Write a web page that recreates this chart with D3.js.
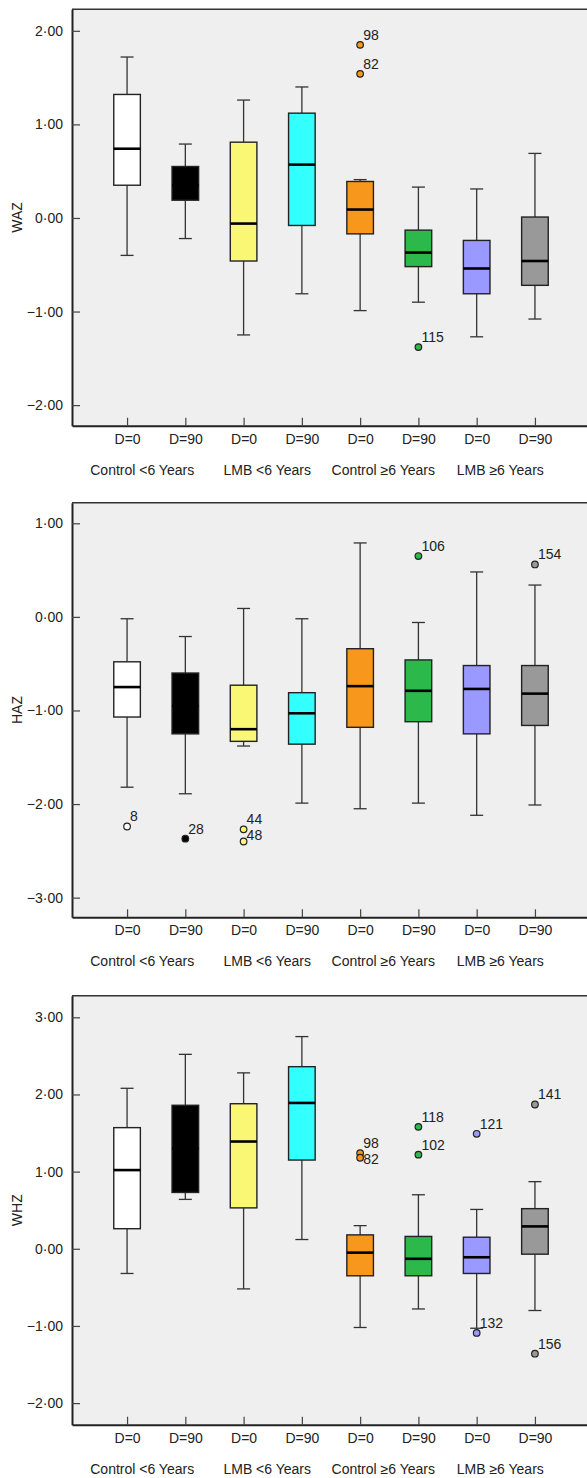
<!DOCTYPE html>
<html>
<head>
<meta charset="utf-8">
<script src="https://cdn.jsdelivr.net/npm/d3@7"></script>
<style>
  body { margin: 0; background: #fff; }
  svg text { font-family: "Liberation Sans", Arial, sans-serif; fill: #222; }
</style>
</head>
<body>
<div id="chart"></div>
<script>
// groups and the two visits
var groups = ["Control <6 Years", "LMB <6 Years", "Control \u22656 Years", "LMB \u22656 Years"]
var days = ["D=0", "D=90"]
var boxColors = ["#ffffff", "#000000", "#faf774", "#33ffff", "#f7981d", "#2cb84a", "#9999ff", "#999999"]

// WAZ box stats (one per box, in group/day order)
var wazLow    = [-0.40, -0.22, -1.25, -0.81, -0.99, -0.90, -1.27, -1.08]
var wazQ1     = [ 0.35,  0.19, -0.46, -0.08, -0.17, -0.52, -0.81, -0.72]
var wazMedian = [ 0.74,  0.35, -0.06,  0.57,  0.09, -0.37, -0.54, -0.46]
var wazQ3     = [ 1.32,  0.55,  0.81,  1.12,  0.39, -0.13, -0.24,  0.01]
var wazHigh   = [ 1.72,  0.79,  1.26,  1.40,  0.41,  0.33,  0.31,  0.69]
var wazOutliers = [
  {box: 4, value: 1.85, id: "98"},
  {box: 4, value: 1.54, id: "82"},
  {box: 5, value: -1.38, id: "115"}
]

// HAZ box stats
var hazLow    = [-1.82, -1.89, -1.38, -1.99, -2.05, -1.99, -2.12, -2.01]
var hazQ1     = [-1.07, -1.25, -1.33, -1.36, -1.18, -1.12, -1.25, -1.16]
var hazMedian = [-0.75, -0.95, -1.20, -1.03, -0.74, -0.79, -0.77, -0.82]
var hazQ3     = [-0.48, -0.60, -0.73, -0.81, -0.34, -0.46, -0.52, -0.52]
var hazHigh   = [-0.02, -0.21,  0.09, -0.02,  0.79, -0.06,  0.48,  0.34]
var hazOutliers = [
  {box: 0, value: -2.24, id: "8"},
  {box: 1, value: -2.37, id: "28"},
  {box: 2, value: -2.27, id: "44"},
  {box: 2, value: -2.40, id: "48"},
  {box: 5, value: 0.65, id: "106"},
  {box: 7, value: 0.56, id: "154"}
]

// WHZ box stats
var whzLow    = [-0.32,  0.64, -0.52,  0.12, -1.02, -0.78, -1.03, -0.80]
var whzQ1     = [ 0.26,  0.73,  0.53,  1.15, -0.35, -0.35, -0.32, -0.07]
var whzMedian = [ 1.02,  1.30,  1.39,  1.89, -0.05, -0.13, -0.11,  0.29]
var whzQ3     = [ 1.57,  1.86,  1.88,  2.36,  0.18,  0.16,  0.15,  0.52]
var whzHigh   = [ 2.08,  2.52,  2.28,  2.75,  0.30,  0.70,  0.51,  0.87]
var whzOutliers = [
  {box: 4, value: 1.24, id: "98"},
  {box: 4, value: 1.18, id: "82"},
  {box: 5, value: 1.58, id: "118"},
  {box: 5, value: 1.22, id: "102"},
  {box: 6, value: 1.49, id: "121"},
  {box: 6, value: -1.09, id: "132"},
  {box: 7, value: 1.87, id: "141"},
  {box: 7, value: -1.36, id: "156"}
]

var width = 587, height = 1478
var plotLeft = 72, plotRight = 590
var boxHalf = 13.3, capHalf = 6.5

// box keys, one per group/day
var boxKeys = []
groups.forEach(function(g){ days.forEach(function(d){ boxKeys.push(g + "|" + d) }) })

var panels = [
  {label: "WAZ", top: 9.3, bottom: 425.7, domain: [-2.22, 2.23],
   low: wazLow, q1: wazQ1, med: wazMedian, q3: wazQ3, high: wazHigh, outliers: wazOutliers},
  {label: "HAZ", top: 502.7, bottom: 917.3, domain: [-3.21, 1.22],
   low: hazLow, q1: hazQ1, med: hazMedian, q3: hazQ3, high: hazHigh, outliers: hazOutliers},
  {label: "WHZ", top: 995.7, bottom: 1424.7, domain: [-2.28, 3.28],
   low: whzLow, q1: whzQ1, med: whzMedian, q3: whzQ3, high: whzHigh, outliers: whzOutliers}
]

// small nudge so the group names sit like the original
var groupNudge = [-14, -5.5, -6, -5.5]

var svg = d3.select("#chart").append("svg")
  .attr("width", width)
  .attr("height", height)

var x = d3.scalePoint().domain(boxKeys).range([plotLeft, plotRight]).padding(0.945)

function fmt(v){
  return (v < 0 ? "\u2212" : "") + Math.abs(v).toFixed(2).replace(".", "\u00b7")
}

panels.forEach(function(p){
  var y = d3.scaleLinear().domain(p.domain).range([p.bottom, p.top])
  var g = svg.append("g")

  // plot background + top border
  g.append("rect")
    .attr("x", plotLeft).attr("y", p.top)
    .attr("width", plotRight - plotLeft).attr("height", p.bottom - p.top)
    .attr("fill", "#efefef")
  g.append("line")
    .attr("x1", plotLeft).attr("x2", plotRight)
    .attr("y1", p.top).attr("y2", p.top)
    .attr("stroke", "#333").attr("stroke-width", 1.5)

  // y axis
  var yTicks = d3.range(Math.ceil(p.domain[0]), Math.floor(p.domain[1]) + 1)
  var yAxis = g.append("g")
    .attr("transform", "translate(" + plotLeft + ",0)")
    .call(d3.axisLeft(y).tickValues(yTicks).tickFormat(fmt).tickSizeInner(-8).tickSizeOuter(0).tickPadding(9))
  yAxis.select(".domain").attr("stroke", "#222").attr("stroke-width", 2)
  yAxis.selectAll(".tick line").attr("stroke", "#444").attr("stroke-width", 1.2)
  yAxis.selectAll("text").style("font-size", "14px").attr("fill", "#222")

  // x axis
  var xAxis = g.append("g")
    .attr("transform", "translate(0," + p.bottom + ")")
    .call(d3.axisBottom(x).tickFormat(function(k){ return k.split("|")[1] })
      .tickSizeInner(-8).tickSizeOuter(0).tickPadding(8))
  xAxis.select(".domain").attr("stroke", "#222").attr("stroke-width", 2)
  xAxis.selectAll(".tick line").attr("stroke", "#444").attr("stroke-width", 1.2)
  xAxis.selectAll("text").style("font-size", "14px").attr("fill", "#222")

  // group names under the pairs
  g.selectAll(".group").data(groups).enter()
    .append("text")
    .attr("class", "group")
    .attr("x", function(d, i){ return (x(d + "|" + days[0]) + x(d + "|" + days[1])) / 2 + groupNudge[i] })
    .attr("y", p.bottom + 44)
    .attr("dy", "0.35em")
    .attr("text-anchor", "middle")
    .style("font-size", "14px")
    .text(function(d){ return d })

  // axis title
  g.append("text")
    .attr("transform", "translate(17," + ((p.top + p.bottom) / 2) + ") rotate(-90)")
    .attr("text-anchor", "middle")
    .attr("dy", "0.35em")
    .style("font-size", "14px")
    .text(p.label)

  // boxes
  var boxes = g.selectAll(".box").data(boxKeys).enter()
    .append("g").attr("class", "box")

  // whiskers
  boxes.append("line")
    .attr("x1", function(d){ return x(d) }).attr("x2", function(d){ return x(d) })
    .attr("y1", function(d, i){ return y(p.high[i]) })
    .attr("y2", function(d, i){ return y(p.q3[i]) })
    .attr("stroke", "#333").attr("stroke-width", 1.3)
  boxes.append("line")
    .attr("x1", function(d){ return x(d) }).attr("x2", function(d){ return x(d) })
    .attr("y1", function(d, i){ return y(p.q1[i]) })
    .attr("y2", function(d, i){ return y(p.low[i]) })
    .attr("stroke", "#333").attr("stroke-width", 1.3)
  boxes.append("line")
    .attr("x1", function(d){ return x(d) - capHalf }).attr("x2", function(d){ return x(d) + capHalf })
    .attr("y1", function(d, i){ return y(p.high[i]) })
    .attr("y2", function(d, i){ return y(p.high[i]) })
    .attr("stroke", "#333").attr("stroke-width", 1.3)
  boxes.append("line")
    .attr("x1", function(d){ return x(d) - capHalf }).attr("x2", function(d){ return x(d) + capHalf })
    .attr("y1", function(d, i){ return y(p.low[i]) })
    .attr("y2", function(d, i){ return y(p.low[i]) })
    .attr("stroke", "#333").attr("stroke-width", 1.3)

  boxes.append("rect")
    .attr("x", function(d){ return x(d) - boxHalf })
    .attr("width", boxHalf * 2)
    .attr("y", function(d, i){ return y(p.q3[i]) })
    .attr("height", function(d, i){ return y(p.q1[i]) - y(p.q3[i]) })
    .attr("fill", function(d, i){ return boxColors[i] })
    .attr("stroke", "#222").attr("stroke-width", 1.4)

  boxes.append("line")
    .attr("x1", function(d){ return x(d) - boxHalf }).attr("x2", function(d){ return x(d) + boxHalf })
    .attr("y1", function(d, i){ return y(p.med[i]) })
    .attr("y2", function(d, i){ return y(p.med[i]) })
    .attr("stroke", "#000").attr("stroke-width", 2.6)

  // outliers
  var outs = p.outliers.map(function(o){
    return {box: o.box, id: o.id, cx: x(boxKeys[o.box]), cy: y(o.value)}
  })
  // keep labels in the same box from overlapping
  d3.groups(outs, function(o){ return o.box }).forEach(function(grp){
    var list = grp[1].sort(function(a, b){ return a.cy - b.cy })
    list.forEach(function(o, i){
      o.ly = o.cy - 10
      if(i > 0 && o.ly - list[i-1].ly < 16) o.ly = list[i-1].ly + 16
    })
  })

  g.selectAll(".outlier").data(outs).enter()
    .append("circle")
    .attr("class", "outlier")
    .attr("cx", function(d){ return d.cx })
    .attr("cy", function(d){ return d.cy })
    .attr("r", 3.3)
    .attr("fill", function(d){ return boxColors[d.box] })
    .attr("stroke", "#222").attr("stroke-width", 1.2)

  g.selectAll(".outlabel").data(outs).enter()
    .append("text")
    .attr("class", "outlabel")
    .attr("x", function(d){ return d.cx + 3 })
    .attr("y", function(d){ return d.ly })
    .attr("dy", "0.35em")
    .style("font-size", "14px")
    .text(function(d){ return d.id })
})
</script>
</body>
</html>
